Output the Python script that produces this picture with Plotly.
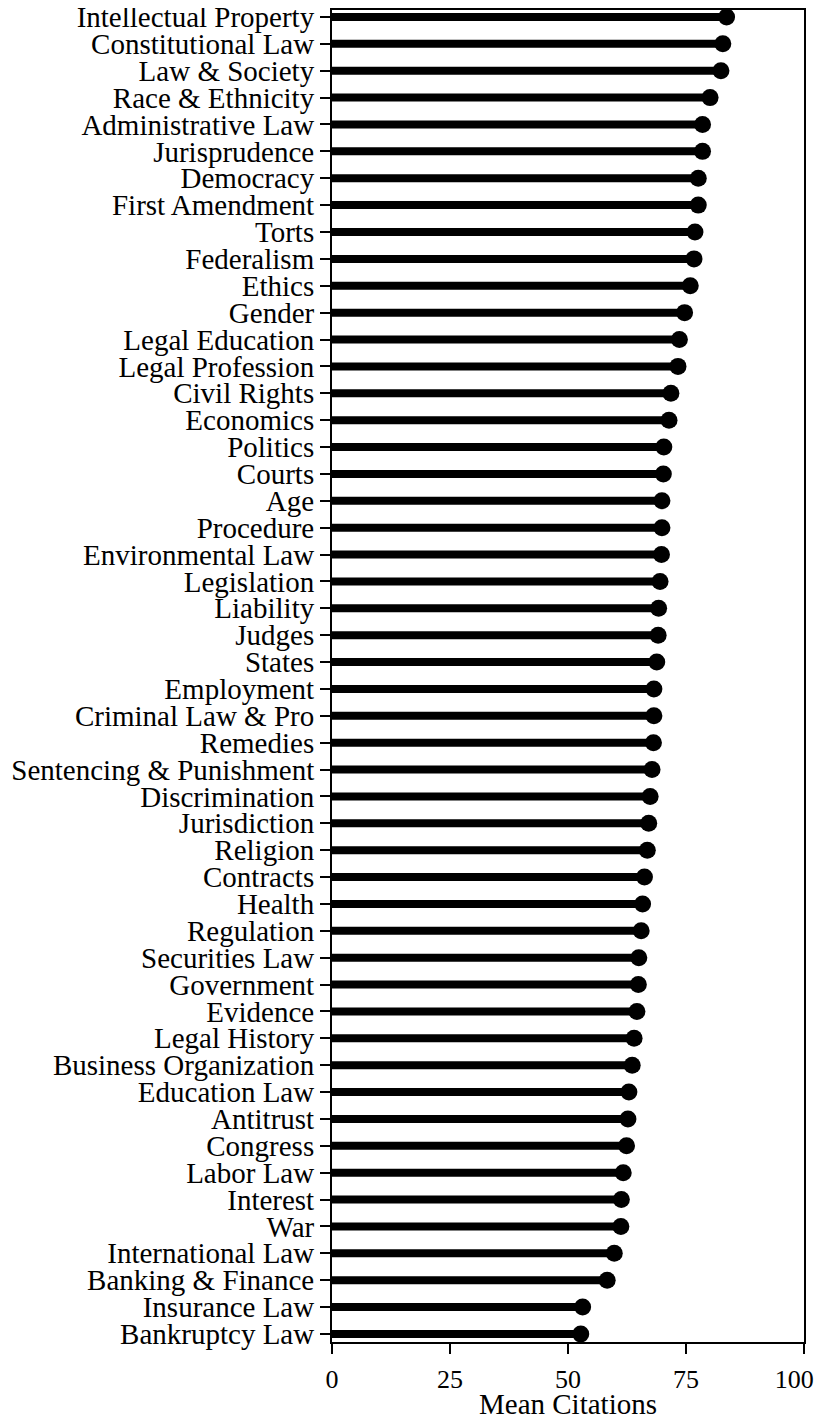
import plotly.graph_objects as go

categories = [
    "Intellectual Property", "Constitutional Law", "Law & Society", "Race & Ethnicity",
    "Administrative Law", "Jurisprudence", "Democracy", "First Amendment", "Torts",
    "Federalism", "Ethics", "Gender", "Legal Education", "Legal Profession",
    "Civil Rights", "Economics", "Politics", "Courts", "Age", "Procedure",
    "Environmental Law", "Legislation", "Liability", "Judges", "States",
    "Employment", "Criminal Law & Pro", "Remedies", "Sentencing & Punishment",
    "Discrimination", "Jurisdiction", "Religion", "Contracts", "Health",
    "Regulation", "Securities Law", "Government", "Evidence", "Legal History",
    "Business Organization", "Education Law", "Antitrust", "Congress",
    "Labor Law", "Interest", "War", "International Law", "Banking & Finance",
    "Insurance Law", "Bankruptcy Law",
]
mean_citations = [
    83.6, 82.8, 82.4, 80.1, 78.5, 78.5, 77.6, 77.6, 76.9,
    76.7, 75.9, 74.7, 73.6, 73.3, 71.8, 71.4, 70.3, 70.2, 69.9, 69.9,
    69.8, 69.5, 69.2, 69.1, 68.8, 68.2, 68.2, 68.1, 67.8,
    67.4, 67.1, 66.8, 66.2, 65.8, 65.5, 65.0, 64.9, 64.6, 64.0,
    63.6, 62.9, 62.7, 62.4, 61.7, 61.3, 61.2, 59.8, 58.3,
    53.1, 52.7,
]
x_ticks = [0, 25, 50, 75, 100]
x_tick_labels = ["0", "25", "50", "75", "100\u00a0\u00a0\u00a0"]
x_title = "Mean Citations"

FONT = "Liberation Serif"

lx, ly = [], []
for c, v in zip(categories, mean_citations):
    lx += [0, v, None]
    ly += [c, c, None]

fig = go.Figure()
fig.add_trace(go.Scatter(x=lx, y=ly, mode="lines",
                         line=dict(color="black", width=8), hoverinfo="skip",
                         showlegend=False))
fig.add_trace(go.Scatter(x=mean_citations, y=categories, mode="markers",
                         marker=dict(color="black", size=17), showlegend=False))

# page has an 8px body margin, so the figure is offset by 8px
fig.update_layout(
    width=816, height=1415,
    margin=dict(l=324, r=20, t=2, b=81, autoexpand=False),
    plot_bgcolor="white", paper_bgcolor="white",
    font=dict(family=FONT, color="black", size=29),
)
fig.add_annotation(
    text=x_title, xref="paper", yref="paper", x=0.5, y=0,
    xanchor="center", yanchor="middle", yshift=-62, showarrow=False,
    font=dict(family=FONT, size=29, color="black"),
)
fig.update_xaxes(
    range=[0, 100], tickmode="array", tickvals=x_ticks,
    ticktext=x_tick_labels,
    showgrid=False, zeroline=False, automargin=False,
    ticklabeloverflow="allow", ticklabelstandoff=3,
    showline=True, linecolor="black", linewidth=2, mirror=True,
    ticks="outside", ticklen=10, tickwidth=2, tickcolor="black",
    tickfont=dict(size=26),
)
fig.update_yaxes(
    type="category", categoryorder="array", categoryarray=categories,
    tickmode="array", tickvals=categories, ticktext=categories,
    range=[len(categories) - 1 + 0.30, -0.26],
    showgrid=False, zeroline=False, automargin=False,
    ticklabeloverflow="allow",
    showline=True, linecolor="black", linewidth=2, mirror=True,
    ticks="outside", ticklen=10, tickwidth=2, tickcolor="black",
    tickfont=dict(size=29),
)

fig.write_html("out.html")
